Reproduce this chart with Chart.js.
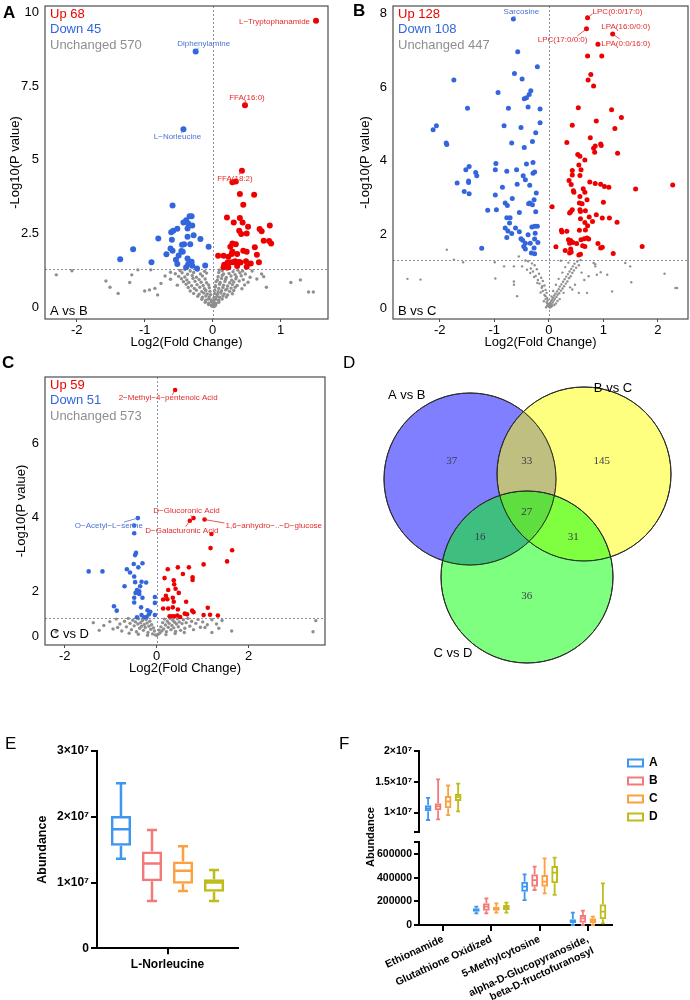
<!DOCTYPE html>
<html><head><meta charset="utf-8">
<script src="https://cdn.jsdelivr.net/npm/chart.js@4.4.1/dist/chart.umd.min.js"></script>
<style>
body{margin:0;width:690px;height:1000px;background:#fff;position:relative;overflow:hidden;font-family:'Liberation Sans',Arial,Helvetica,sans-serif}
.cv{position:absolute}
.let{position:absolute;font-size:17px;line-height:17px;color:#000}
</style></head><body>
<canvas class="cv" id="cA" width="340" height="350" style="left:0;top:0"></canvas>
<canvas class="cv" id="cB" width="350" height="350" style="left:340px;top:0"></canvas>
<canvas class="cv" id="cC" width="340" height="330" style="left:0;top:350px"></canvas>
<canvas class="cv" id="cD" width="350" height="330" style="left:340px;top:350px"></canvas>
<canvas class="cv" id="cE" width="340" height="310" style="left:0;top:690px"></canvas>
<canvas class="cv" id="cF1" width="350" height="95" style="left:340px;top:740px"></canvas>
<canvas class="cv" id="cF2" width="350" height="165" style="left:340px;top:835px"></canvas>
<canvas class="cv" id="cFL" width="140" height="80" style="left:622px;top:751px"></canvas>
<div class="let" style="left:3px;top:4px;font-weight:bold">A</div>
<div class="let" style="left:353px;top:2px;font-weight:bold">B</div>
<div class="let" style="left:2px;top:354px;font-weight:bold">C</div>
<div class="let" style="left:343px;top:354px">D</div>
<div class="let" style="left:5px;top:735px">E</div>
<div class="let" style="left:339px;top:735px">F</div>
<div style="position:absolute;left:370px;top:837px;transform:translate(-50%,-50%) rotate(-90deg);font-weight:bold;font-size:11px;white-space:nowrap">Abundance</div>
<script>
// ---------------- DATA ----------------
const pThreshold = 1.3;
// Panel A: A vs B
const upA = [[1.52,9.73],[0.475,6.86],[0.43,4.63],[0.29,4.24],[0.34,4.26],[0.40,3.84],[0.61,3.81],[0.45,3.47],[0.21,3.04],[0.40,3.02],[0.31,2.87],[0.44,2.87],[0.52,2.73],[0.69,2.65],[0.84,2.77],[0.39,2.59],[0.42,2.48],[0.50,2.50],[0.72,2.57],[0.75,2.25],[0.83,2.24],[0.86,2.16],[0.29,2.16],[0.34,2.13],[0.26,2.05],[0.62,2.03],[0.45,1.91],[0.50,1.88],[0.29,1.88],[0.28,1.80],[0.65,1.77],[0.08,1.74],[0.16,1.74],[0.23,1.71],[0.36,1.80],[0.49,1.55],[0.56,1.48],[0.68,1.52],[0.22,1.51],[0.25,1.51],[0.29,1.52],[0.33,1.55],[0.36,1.48],[0.39,1.53],[0.41,1.51],[0.17,1.43],[0.21,1.46],[0.16,1.35],[0.23,1.35],[0.36,1.39],[0.50,1.37]];
const downA = [[-0.25,8.68],[-0.43,6.04],[-0.59,3.45],[-0.34,3.08],[-0.31,3.08],[-0.39,2.95],[-0.43,2.87],[-0.36,2.84],[-0.30,2.77],[-0.37,2.67],[-0.52,2.66],[-0.58,2.59],[-0.61,2.54],[-0.37,2.39],[-0.28,2.44],[-0.18,2.31],[-0.80,2.33],[-0.60,2.28],[-0.33,2.13],[-0.45,2.11],[-0.42,2.13],[-0.06,2.05],[-1.17,1.96],[-0.62,1.99],[-0.59,1.91],[-0.46,1.90],[-0.44,1.88],[-0.68,1.79],[-0.50,1.75],[-0.37,1.65],[-0.54,1.60],[-0.90,1.52],[-1.36,1.62],[-0.31,1.54],[-0.52,1.46],[-0.36,1.46],[-0.39,1.35],[-0.30,1.40],[-0.23,1.31],[-0.11,1.41]];
const unchangedA = [[-2.30,1.09],[-2.07,1.23],[-1.57,0.88],[-1.51,0.67],[-1.39,0.46],[-1.22,0.83],[-1.19,1.09],[-1.10,1.26],[-0.91,1.26],[-1.00,0.54],[-0.93,0.58],[-0.85,0.63],[-0.81,0.41],[-0.76,0.80],[-0.70,1.05],[-0.62,1.18],[1.15,0.83],[1.29,0.92],[1.41,0.51],[1.48,0.51],[0.75,1.03],[0.79,0.67],[0.72,1.12],[0.65,0.95],[0.58,1.22],
[-0.48,1.24],[-0.41,1.27],[-0.33,1.22],[-0.22,1.25],[-0.12,1.21],[0.10,1.26],[0.14,1.23],[0.21,1.27],[0.30,1.20],[0.37,1.25],[0.44,1.22],
[-0.55,1.13],[-0.45,1.16],[-0.37,1.11],[-0.28,1.17],[-0.18,1.12],[-0.09,1.15],[0.09,1.17],[0.16,1.12],[0.24,1.14],[0.33,1.10],[0.40,1.16],[0.48,1.12],
[-0.50,1.04],[-0.41,1.02],[-0.30,1.07],[-0.24,1.01],[-0.15,1.05],[0.08,1.03],[0.14,1.07],[0.20,1.00],[0.27,1.05],[0.35,1.02],[0.42,1.06],[0.55,1.01],
[-0.62,0.94],[-0.46,0.96],[-0.38,0.92],[-0.29,0.97],[-0.20,0.93],[-0.11,0.95],[0.07,0.92],[0.13,0.97],[0.19,0.94],[0.28,0.91],[0.34,0.96],[0.45,0.93],
[-0.43,0.86],[-0.35,0.83],[-0.26,0.87],[-0.17,0.84],[-0.09,0.82],[0.05,0.86],[0.11,0.83],[0.18,0.87],[0.25,0.82],[0.31,0.85],[0.39,0.88],[0.52,0.84],
[-0.52,0.74],[-0.39,0.77],[-0.31,0.72],[-0.23,0.76],[-0.14,0.73],[-0.06,0.75],[0.04,0.72],[0.10,0.77],[0.16,0.74],[0.22,0.71],[0.29,0.76],[0.36,0.73],[0.47,0.75],
[-0.36,0.66],[-0.27,0.63],[-0.19,0.67],[-0.12,0.62],[-0.05,0.65],[0.04,0.68],[0.09,0.63],[0.15,0.66],[0.21,0.61],[0.27,0.64],[0.33,0.67],[0.43,0.62],
[-0.33,0.54],[-0.24,0.57],[-0.16,0.52],[-0.10,0.56],[-0.04,0.53],[0.03,0.57],[0.08,0.52],[0.13,0.55],[0.19,0.58],[0.25,0.53],[0.31,0.56],
[-0.28,0.46],[-0.20,0.43],[-0.13,0.47],[-0.08,0.44],[-0.03,0.42],[0.03,0.46],[0.07,0.43],[0.12,0.47],[0.17,0.44],[0.22,0.41],[0.29,0.45],
[-0.22,0.36],[-0.15,0.33],[-0.10,0.37],[-0.05,0.34],[0.02,0.32],[0.06,0.36],[0.10,0.33],[0.15,0.37],[0.20,0.34],
[-0.16,0.26],[-0.10,0.23],[-0.06,0.27],[-0.02,0.24],[0.02,0.22],[0.05,0.26],[0.09,0.23],[0.14,0.27],
[-0.11,0.16],[-0.06,0.13],[-0.02,0.17],[0.02,0.14],[0.05,0.12],[0.09,0.16],[-0.06,0.08],[-0.02,0.06],[0.01,0.09],[0.04,0.05],[-0.01,0.02],[0.02,0.01]];
const countsA = [68, 45, 570];
const labelsA = [['L\u2212Tryptophanamide',1.52,9.73,-6,1,'right',null,'u'],['Diphenylamine',-0.25,8.68,8,-8,'center',[3,-4],'d'],['FFA(16:0)',0.475,6.86,2,-7,'center',[1,-3],'u'],['L\u2212Norleucine',-0.43,6.04,-6,8,'center',[-2,4],'d'],['FFA(18:2)',0.43,4.63,-7,8,'center',[-3,4],'u']];
const xTicksA = [-2,-1,0,1];
const yTicksA = [0,2.5,5,7.5,10];

// Panel B: B vs C
const upB = [[0.71,7.88],[0.69,7.58],[1.17,7.44],[0.90,7.16],[0.71,6.84],[0.97,6.84],[0.77,6.34],[0.72,6.19],[0.82,6.03],[0.54,5.44],[1.15,5.38],[1.33,5.17],[0.87,5.08],[0.43,4.96],[1.21,4.87],[0.76,4.62],[0.33,4.49],[0.85,4.40],[0.95,4.45],[0.96,4.41],[0.82,4.34],[0.84,4.23],[1.26,4.20],[0.53,4.17],[0.57,4.12],[0.66,4.02],[0.55,3.88],[0.43,3.73],[0.59,3.75],[0.43,3.61],[0.57,3.60],[0.37,3.46],[0.75,3.42],[0.85,3.38],[0.95,3.36],[1.02,3.30],[1.10,3.28],[1.59,3.23],[2.27,3.34],[0.41,3.35],[0.45,3.18],[0.46,3.14],[0.63,3.24],[0.66,3.14],[0.70,2.94],[0.57,3.03],[1.00,2.87],[0.56,2.85],[0.61,2.83],[0.06,2.75],[0.43,2.67],[0.40,2.61],[0.38,2.58],[0.57,2.67],[0.58,2.62],[0.67,2.64],[0.87,2.53],[0.98,2.44],[1.11,2.44],[1.25,2.33],[0.58,2.42],[0.66,2.32],[0.74,2.47],[0.80,2.35],[0.71,2.23],[0.67,2.12],[0.56,2.11],[0.23,2.11],[0.24,2.06],[0.33,2.08],[0.40,1.83],[0.36,1.85],[0.38,1.76],[0.44,1.78],[0.51,1.75],[0.59,1.85],[0.65,1.88],[0.70,1.90],[0.73,1.87],[0.62,1.69],[0.66,1.67],[0.90,1.75],[0.95,1.63],[0.98,1.65],[0.13,1.66],[0.30,1.56],[0.40,1.60],[0.41,1.52],[0.55,1.44],[0.58,1.46],[1.18,1.48],[1.71,1.67],[0.38,1.49]];
const downB = [[-0.65,7.85],[-0.57,6.96],[-0.21,6.55],[-0.63,6.37],[-0.49,6.22],[-1.74,6.19],[-0.33,5.90],[-0.36,5.80],[-0.45,5.68],[-0.41,5.71],[-0.93,5.85],[-1.49,5.42],[-0.74,5.42],[-0.38,5.46],[-0.16,5.40],[-0.82,4.95],[-0.51,4.90],[-0.16,5.03],[-2.06,4.95],[-2.12,4.84],[-0.24,4.76],[-1.88,4.48],[-1.87,4.44],[-0.68,4.48],[-0.30,4.52],[-0.45,4.36],[-1.46,3.84],[-1.52,3.75],[-0.97,3.92],[-0.98,3.75],[-0.77,3.71],[-0.59,3.75],[-0.41,3.91],[-0.29,3.95],[-0.29,3.66],[-0.26,3.69],[-1.34,3.68],[-1.32,3.59],[-1.47,3.45],[-1.47,3.41],[-1.68,3.39],[-0.47,3.59],[-0.43,3.48],[-0.58,3.36],[-0.85,3.28],[-0.35,3.33],[-0.23,3.12],[-1.55,3.16],[-1.46,3.10],[-0.98,3.07],[-0.67,2.97],[-0.27,2.94],[-0.80,2.85],[-0.76,2.78],[-0.37,2.83],[-0.35,2.85],[-0.30,2.80],[-0.24,2.61],[-1.12,2.65],[-0.96,2.67],[-0.54,2.59],[-0.77,2.45],[-0.71,2.45],[-0.72,2.31],[-0.31,2.20],[-0.26,2.22],[-0.21,2.22],[-0.80,2.17],[-0.75,2.09],[-0.61,2.17],[-0.68,2.02],[-0.38,1.99],[-0.25,2.03],[-0.77,1.91],[-0.54,2.07],[-0.51,1.88],[-0.48,1.84],[-0.43,1.76],[-0.34,1.76],[-0.26,1.87],[-0.20,1.78],[-0.43,1.60],[-0.27,1.63],[-1.23,1.62],[-0.32,1.49],[-0.26,1.47],[-0.46,1.67]];
const unchangedB = [[-2.59,0.79],[-2.35,0.77],[-1.87,1.58],[-1.74,1.31],[-1.57,1.24],[-0.99,1.24],[-0.98,0.80],[-0.82,1.13],[-0.64,1.13],[-0.64,0.72],[-0.64,0.63],[-0.58,0.32],[-0.55,1.40],[0.82,1.22],[0.85,1.13],[1.07,0.90],[1.16,0.45],[1.40,1.22],[1.49,1.13],[1.51,0.70],[2.12,0.93],[2.32,0.54],[2.35,0.54],[0.70,0.41],[0.73,0.86],[0.88,0.90],[0.95,0.97],[0.85,1.19],[0.55,0.41],[0.43,0.50],
[-0.43,1.29],[-0.49,1.13],[-0.40,1.04],[-0.34,0.95],[-0.27,0.84],[-0.21,0.68],[-0.12,0.59],[-0.15,0.42],[-0.06,0.32],[-0.09,0.18],[-0.03,0.14],
[-0.38,1.27],[-0.31,1.21],[-0.26,1.16],[-0.33,1.07],[-0.22,1.05],[-0.29,0.99],[-0.18,0.93],[-0.24,0.87],[-0.14,0.82],[-0.20,0.76],[-0.11,0.73],[-0.17,0.66],[-0.08,0.61],[-0.13,0.55],[-0.06,0.49],[-0.11,0.46],[-0.04,0.41],[-0.08,0.35],[-0.03,0.27],[-0.06,0.24],[-0.02,0.21],[-0.04,0.15],[-0.01,0.11],[-0.03,0.07],[0.00,0.04],[0.01,0.09],[0.02,0.13],[0.03,0.06],[0.04,0.18],[0.05,0.10],[0.06,0.23],[0.07,0.15],[0.08,0.28],[0.09,0.20],[0.10,0.34],[0.11,0.25],[0.12,0.39],[0.14,0.30],[0.15,0.45],[0.16,0.36],[0.18,0.51],[0.19,0.40],[0.20,0.58],[0.22,0.47],[0.23,0.64],[0.25,0.53],[0.26,0.71],[0.28,0.59],[0.29,0.78],[0.31,0.66],[0.32,0.85],[0.34,0.72],[0.35,0.92],[0.37,0.81],[0.38,0.99],[0.40,0.86],[0.41,1.06],[0.43,0.95],[0.44,1.13],[0.46,1.02],[0.47,1.20],[0.50,1.09],[0.52,1.26],[0.55,1.16],[0.36,1.23],[0.30,1.11],[0.25,0.96],[0.18,0.79],[0.13,0.63],[0.08,0.46],[0.05,0.31],[0.22,1.28],[0.60,0.96],[0.48,0.63],[0.65,0.76],[0.58,1.30],[0.39,0.56],[0.27,0.41],[-0.05,0.02],[0.02,0.01],[0.04,0.03],[-0.02,0.05],[0.06,0.05],[0.10,0.08],[0.13,0.12],[0.16,0.19],[0.20,0.24]];
const countsB = [128, 108, 447];
const labelsB = [['Sarcosine',-0.65,7.85,8,-7,'center',[2,-3],'d'],['LPC(0:0/17:0)',0.71,7.88,5,-6,'left',[5,-4],'u'],['LPC(17:0/0:0)',0.69,7.58,1,11,'right',[-9,7],'u'],['LPA(16:0/0:0)',1.17,7.44,13,-7,'center',null,'u'],['LPA(0:0/16:0)',1.17,7.44,13,9.5,'center',[7,5],'u']];
const xTicksB = [-2,-1,0,1,2];
const yTicksB = [0,2,4,6,8];

// Panel C: C vs D
const upC = [[0.40,7.45],[0.80,3.99],[0.72,3.92],[1.04,3.95],[1.19,3.56],[1.17,3.18],[1.64,3.12],[1.53,2.82],[1.02,2.74],[0.70,2.66],[0.57,2.48],[0.46,2.66],[0.24,2.61],[0.17,2.37],[0.37,2.31],[0.78,2.39],[0.78,2.32],[0.38,2.20],[0.41,2.08],[0.25,2.05],[0.48,1.97],[0.20,1.89],[0.23,1.80],[0.14,1.79],[0.35,1.84],[0.37,1.73],[0.64,1.73],[0.35,1.58],[0.14,1.55],[0.25,1.55],[0.46,1.52],[0.77,1.49],[0.80,1.45],[1.11,1.57],[1.16,1.38],[1.33,1.36],[0.61,1.41],[0.66,1.39],[0.28,1.34],[0.33,1.34],[0.38,1.34],[0.45,1.36],[0.51,1.32],[1.02,1.37]];
const downC = [[-0.41,3.99],[-0.49,3.79],[-0.49,3.58],[-0.45,3.05],[-0.47,2.99],[-0.50,2.75],[-0.31,2.77],[-0.40,2.66],[-1.48,2.55],[-1.18,2.55],[-0.65,2.61],[-0.58,2.52],[-0.49,2.41],[-0.33,2.27],[-0.23,2.25],[-0.47,2.26],[-0.70,2.15],[-0.36,2.15],[-0.43,2.05],[-0.38,2.01],[-0.46,1.97],[-0.38,1.94],[-0.49,1.84],[-0.49,1.71],[-0.31,1.84],[-0.04,1.86],[-0.04,1.70],[-0.93,1.61],[-0.87,1.49],[-0.34,1.58],[-0.20,1.50],[-0.14,1.46],[-0.17,1.39],[-0.33,1.37],[-0.22,1.32],[-0.43,1.31],[-0.27,1.31],[-0.04,1.37]];
const unchangedC = [[-2.49,1.09],[-2.19,0.30],[3.46,1.09],[3.40,0.30],[1.63,0.35],[1.42,1.10],[1.30,0.85],[1.05,0.60],[1.20,0.25],[-1.38,0.95],[-1.15,0.75],[-1.02,1.02],[-0.95,0.50],[-0.88,1.20],[-0.80,0.85],[-0.76,0.35],[-0.70,1.05],[-0.66,0.65],[-0.62,1.25],[-0.58,0.90],[-0.55,0.45],[-0.52,1.12],[-0.49,0.72],[-0.46,1.00],[-0.44,0.30],[-0.41,0.85],[-0.39,1.22],[-0.37,0.55],[-0.35,0.95],[-0.33,0.70],[-0.31,1.10],[-0.29,0.40],[-0.27,0.82],[-0.25,0.60],[-0.23,1.18],[-0.21,0.92],[-0.19,0.25],[-0.17,0.70],[-0.15,1.05],[-0.13,0.48],[-0.11,0.80],[-0.09,0.15],[-0.07,0.58],[-0.05,0.35],[-0.03,0.08],[0.00,0.03],[0.03,0.12],[0.05,0.42],[0.07,0.22],[0.09,0.65],[0.11,0.35],[0.13,0.95],[0.15,0.50],[0.17,1.20],[0.19,0.78],[0.21,0.30],[0.23,1.05],[0.25,0.62],[0.27,0.90],[0.29,1.25],[0.31,0.45],[0.33,0.75],[0.35,1.12],[0.37,0.58],[0.39,0.98],[0.41,0.32],[0.43,0.85],[0.45,1.22],[0.47,0.66],[0.49,1.00],[0.52,0.40],[0.55,0.88],[0.58,1.15],[0.61,0.55],[0.64,0.95],[0.68,1.25],[0.72,0.70],[0.76,1.05],[0.80,0.45],[0.85,0.90],[0.90,1.18],[0.95,0.62],[1.00,1.00],[1.10,0.80],[1.20,1.15],[1.35,0.55],[-0.60,0.20],[-0.40,0.12],[-0.20,0.05],[0.20,0.10],[0.40,0.18],[0.60,0.25],[-0.85,0.60],[-1.25,0.40]];
const countsC = [59, 51, 573];
const labelsC = [['2\u2212Methyl\u22124\u2212pentenoic Acid',0.40,7.45,-7,8,'center',[-3,5],'u'],['D\u2212Glucoronic Acid',0.80,3.99,-7,-7,'center',[-3,-3],'u'],['D\u2212Galacturonic Acid',0.72,3.92,-8,10,'center',[-4,6],'u'],['1,6\u2212anhydro\u2212..\u2212D\u2212glucose',1.04,3.95,21,6.7,'left',[20,3.4],'u'],['O\u2212Acetyl\u2212L\u2212serine',-0.41,3.99,-29,8,'center',[-14,4],'d']];
const xTicksC = [-2,0,2];
const yTicksC = [0,2,4,6];

// Panel D: Venn
const vennSetNames = ['A vs B','B vs C','C vs D'];
const vennRegions = ['A only','A\u2229B','B only','A\u2229B\u2229C','A\u2229C','B\u2229C','C only'];
const vennCounts = [37, 33, 145, 27, 16, 31, 36];

// Panel E: L-Norleucine abundance (min, Q1, median, Q3, max)
const groups = ['A','B','C','D'];
const eCategories = ['L-Norleucine'];
const eA = [[1.36e7,1.56e7,1.81e7,2.01e7,2.51e7]];
const eB = [[0.72e7,1.02e7,1.29e7,1.47e7,1.80e7]];
const eC = [[0.87e7,0.98e7,1.18e7,1.32e7,1.55e7]];
const eD = [[0.72e7,0.86e7,1.00e7,1.05e7,1.19e7]];
const eYTicks = [0,1e7,2e7,3e7];

// Panel F: abundance per metabolite (min, Q1, median, Q3, max)
const fCategories = ['Ethionamide','Glutathione Oxidized','5-Methylcytosine',['alpha-D-Glucopyranoside,','beta-D-fructofuranosyl']];
const fA = [[0.88e7,1.02e7,1.07e7,1.12e7,1.24e7],[99e3,113e3,127e3,141e3,155e3],[211e3,282e3,324e3,366e3,428e3],[0,14e3,34e3,48e3,104e3]];
const fB = [[0.89e7,1.04e7,1.10e7,1.15e7,1.54e7],[99e3,121e3,155e3,183e3,225e3],[296e3,324e3,380e3,428e3,493e3],[0,20e3,56e3,85e3,121e3]];
const fC = [[0.96e7,1.07e7,1.18e7,1.27e7,1.44e7],[104e3,121e3,141e3,155e3,183e3],[268e3,324e3,366e3,423e3,563e3],[0,14e3,37e3,56e3,70e3]];
const fD = [[1.02e7,1.19e7,1.25e7,1.30e7,1.47e7],[104e3,127e3,146e3,169e3,189e3],[254e3,352e3,442e3,499e3,569e3],[14e3,48e3,113e3,175e3,352e3]];
const fUpperTicks = [6.9e6,1e7,1.5e7,2e7];
const fLowerTicks = [0,2e5,4e5,6e5,7.04e5];

// ---------------- STYLE / LAYOUT ----------------
const FONT = "'Liberation Sans', Arial, Helvetica, sans-serif";
Chart.defaults.font.family = FONT;
Chart.defaults.color = '#000';
Chart.defaults.layout.autoPadding = false;
const UP_COL = '#ee0000', DOWN_COL = '#3366dd', GREY_COL = '#8f8f8f';
const LBL_UP = '#e42a2a', LBL_DOWN = '#4a72d2';
const groupColors = ['#3d97f0','#f47a7a','#fca040','#bdbd1a'];
const noPadY = w => s => { s.width = w; s.paddingTop = 0; s.paddingBottom = 0; };
const noPadX = h => s => { s.height = h; s.paddingLeft = 0; s.paddingRight = 0; };

// piecewise scale: squeezes the non-significant band of panel C
const SQ_AT = 1.3, SQ_F = 0.38;
class SquishScale extends Chart.LinearScale {
  _tf(v){ return v >= SQ_AT ? v : SQ_AT - (SQ_AT - v) * SQ_F; }
  getPixelForValue(v){ const a=this._tf(this.min), c=this._tf(this.max); return this.getPixelForDecimal((this._tf(v)-a)/(c-a)); }
  getValueForPixel(p){ const a=this._tf(this.min), c=this._tf(this.max); const t=a+this.getDecimalForPixel(p)*(c-a); return t>=SQ_AT? t : SQ_AT-(SQ_AT-t)/SQ_F; }
}
SquishScale.id = 'squish';
SquishScale.defaults = Chart.LinearScale.defaults;
Chart.register(SquishScale);

const toPts = a => a.map(p => ({x:p[0], y:p[1]}));

function makeVolcano(id, d, L) {
  const decor = {
    id: 'decor',
    beforeDatasetsDraw(chart) {
      const {ctx, chartArea:ca, scales:{x,y}} = chart;
      ctx.save(); ctx.strokeStyle='#8d8da6'; ctx.lineWidth=1; ctx.setLineDash([2,2]);
      const py=Math.round(y.getPixelForValue(pThreshold))+0.5, px=Math.round(x.getPixelForValue(0))+0.5;
      ctx.beginPath(); ctx.moveTo(ca.left,py); ctx.lineTo(ca.right,py); ctx.moveTo(px,ca.top); ctx.lineTo(px,ca.bottom); ctx.stroke();
      ctx.restore();
    },
    afterDatasetsDraw(chart) {
      const {ctx, chartArea:ca, scales:{x,y}} = chart;
      ctx.save();
      ctx.font = '8px '+FONT; ctx.textBaseline='middle';
      d.labels.forEach(([t,vx,vy,dx,dy,al,ld,k]) => {
        const px=x.getPixelForValue(vx), py=y.getPixelForValue(vy);
        const col = k==='u' ? LBL_UP : LBL_DOWN;
        ctx.strokeStyle=col; ctx.fillStyle=col; ctx.lineWidth=0.8;
        if (ld) { ctx.beginPath(); ctx.moveTo(px,py); ctx.lineTo(px+ld[0],py+ld[1]); ctx.stroke(); }
        ctx.textAlign=al; ctx.fillText(t, px+dx, py+dy);
      });
      ctx.strokeStyle='#4d4d4d'; ctx.lineWidth=1.2;
      ctx.strokeRect(ca.left, ca.top, ca.right-ca.left, ca.bottom-ca.top);
      ctx.font='13px '+FONT; ctx.textAlign='left';
      const cols=[UP_COL,DOWN_COL,GREY_COL], names=['Up','Down','Unchanged'];
      names.forEach((n,i)=>{ ctx.fillStyle=cols[i]; ctx.fillText(n+' '+d.counts[i], ca.left+5, ca.top+8+15.5*i); });
      ctx.fillStyle='#000'; ctx.fillText(d.comparison, ca.left+5, ca.bottom-L.cmpOff);
      ctx.restore();
    }
  };
  return new Chart(document.getElementById(id), {
    type:'scatter',
    data:{datasets:[
      {data:toPts(d.up), backgroundColor:UP_COL, pointRadius:L.r, borderWidth:0, pointBorderWidth:0},
      {data:toPts(d.down), backgroundColor:DOWN_COL, pointRadius:L.r, borderWidth:0, pointBorderWidth:0},
      {data:toPts(d.unchanged), backgroundColor:GREY_COL, pointRadius:L.rg, borderWidth:0, pointBorderWidth:0}
    ]},
    options:{
      responsive:false, animation:false, events:[], devicePixelRatio:1,
      layout:{padding:L.pad, autoPadding:false},
      plugins:{legend:{display:false}, tooltip:{enabled:false}},
      scales:{
        x:{type:'linear', min:L.xMin, max:L.xMax,
          afterBuildTicks:s=>{s.ticks=d.xTicks.map(v=>({value:v}));},
          afterFit:noPadX(L.xH),
          grid:{display:true, drawOnChartArea:false, drawTicks:true, tickLength:3, color:'#4d4d4d'},
          border:{display:false},
          ticks:{color:'#000', font:{size:13}, padding:1, maxRotation:0, callback:v=>String(v)},
          title:{display:true, text:'Log2(Fold Change)', color:'#000', font:{size:13}, padding:{top:0,bottom:L.xTitlePad}}},
        y:{type:L.yType, min:L.yMin, max:L.yMax,
          afterBuildTicks:s=>{s.ticks=d.yTicks.map(v=>({value:v}));},
          afterFit:noPadY(L.yW),
          grid:{display:false, drawTicks:false},
          border:{display:false},
          ticks:{color:'#000', font:{size:13}, padding:L.yTickPad, callback:v=>String(v)},
          title:{display:true, text:'-Log10(P value)', color:'#000', font:{size:13}, padding:{top:L.yTitlePad,bottom:0}}}
      }
    },
    plugins:[decor]
  });
}

makeVolcano('cA', {up:upA, down:downA, unchanged:unchangedA, counts:countsA, comparison:'A vs B', labels:labelsA, xTicks:xTicksA, yTicks:yTicksA},
  {pad:{top:6,right:12,left:0,bottom:0}, yW:45, xH:31, xMin:-2.466, xMax:1.696, yMin:-0.41, yMax:10.23, yType:'linear', yTitlePad:8, yTickPad:6, xTitlePad:0, r:3, rg:1.7, cmpOff:8});
makeVolcano('cB', {up:upB, down:downB, unchanged:unchangedB, counts:countsB, comparison:'B vs C', labels:labelsB, xTicks:xTicksB, yTicks:yTicksB},
  {pad:{top:6,right:2,left:0,bottom:0}, yW:53, xH:31, xMin:-2.855, xMax:2.55, yMin:-0.30, yMax:8.2, yType:'linear', yTitlePad:18, yTickPad:6, xTitlePad:0, r:2.5, rg:1.2, cmpOff:8});
makeVolcano('cC', {up:upC, down:downC, unchanged:unchangedC, counts:countsC, comparison:'C vs D', labels:labelsC, xTicks:xTicksC, yTicks:yTicksC},
  {pad:{top:27,right:15,left:0,bottom:0}, yW:45, xH:35, xMin:-2.43, xMax:3.66, yMin:-0.64, yMax:7.8, yType:'squish', yTitlePad:14, yTickPad:6, xTitlePad:4, r:2.3, rg:1.7, cmpOff:11});

// ---------- Venn (bubble chart in pixel-like units) ----------
const vennCircles = [[130,129,86],[244,124,87],[187,227,86]];
const vennCircleColors = ['rgba(0,0,255,0.5)','rgba(255,255,0,0.5)','rgba(0,255,0,0.5)'];
const vennCountPos = [[111.7,110.7],[186.7,110.7],[261.7,110.7],[186.7,161.7],[140,187.3],[233.3,187.3],[186.7,245.7]];
const vennNamePos = [[66.7,45],[273,38],[113,303]];
new Chart(document.getElementById('cD'), {
  type:'bubble',
  data:{datasets:[{data:vennCircles.map(c=>({x:c[0],y:c[1],r:c[2]})), backgroundColor:vennCircleColors, borderColor:'#333', borderWidth:1, clip:false}]},
  options:{responsive:false, animation:false, events:[], devicePixelRatio:1, layout:{padding:0, autoPadding:false},
    plugins:{legend:{display:false}, tooltip:{enabled:false}},
    scales:{x:{type:'linear', min:0, max:350, display:false}, y:{type:'linear', min:0, max:330, reverse:true, display:false}}},
  plugins:[{id:'vennText', afterDatasetsDraw(chart){
    const {ctx, scales:{x,y}} = chart; const meta=chart.getDatasetMeta(0);
    ctx.save(); ctx.strokeStyle='#2a2a2a'; ctx.lineWidth=1;
    meta.data.forEach(el=>{ ctx.beginPath(); ctx.arc(el.x, el.y, el.options.radius, 0, Math.PI*2); ctx.stroke(); });
    ctx.textAlign='center'; ctx.textBaseline='middle';
    ctx.font="11px 'Liberation Serif', 'DejaVu Serif', serif"; ctx.fillStyle='#3a3a4a';
    vennCounts.forEach((n,i)=>{ ctx.fillText(String(n), x.getPixelForValue(vennCountPos[i][0]), y.getPixelForValue(vennCountPos[i][1])); });
    ctx.font='13px '+FONT; ctx.fillStyle='#000';
    vennSetNames.forEach((n,i)=>{ ctx.fillText(n, x.getPixelForValue(vennNamePos[i][0]), y.getPixelForValue(vennNamePos[i][1])); });
    ctx.restore();
  }}]
});

// ---------- Box plots ----------
function whiskerPlugin(stats, cats, capRatio, lw) {
  return {id:'whisk', afterDatasetsDraw(chart){
    const ctx=chart.ctx, y=chart.scales.y;
    chart.data.datasets.forEach((ds,di)=>{
      const meta=chart.getDatasetMeta(di);
      cats.forEach(i=>{
        const s=stats[di][i], bar=meta.data[i]; if(!s||!bar) return;
        const x=bar.x, w=bar.width, cw=w*capRatio;
        const p=s.map(v=>y.getPixelForValue(v));
        ctx.save(); ctx.strokeStyle=ds.borderColor; ctx.lineWidth=lw; ctx.beginPath();
        ctx.moveTo(x,p[3]); ctx.lineTo(x,p[4]); ctx.moveTo(x,p[1]); ctx.lineTo(x,p[0]);
        ctx.moveTo(x-cw/2,p[4]); ctx.lineTo(x+cw/2,p[4]); ctx.moveTo(x-cw/2,p[0]); ctx.lineTo(x+cw/2,p[0]);
        ctx.moveTo(x-w/2+lw/2,p[2]); ctx.lineTo(x+w/2-lw/2,p[2]);
        ctx.stroke(); ctx.restore();
      });
    });
  }};
}
const sciFmt = v => v===0 ? '0' : (v/1e7)+'\u00d710\u2077';

const eStats = [eA,eB,eC,eD];
new Chart(document.getElementById('cE'), {
  type:'bar',
  data:{labels:eCategories, datasets:eStats.map((s,i)=>({label:groups[i], data:s.map(b=>[b[1],b[3]]), backgroundColor:'rgba(255,255,255,0)', borderColor:groupColors[i], borderWidth:2.5, borderSkipped:false, categoryPercentage:0.88, barPercentage:0.65}))},
  options:{responsive:false, animation:false, events:[], devicePixelRatio:1, layout:{padding:{top:61,right:102,left:0,bottom:0}, autoPadding:false},
    plugins:{legend:{display:false}, tooltip:{enabled:false}},
    scales:{
      x:{afterFit:noPadX(51.7), grid:{display:true, drawOnChartArea:false, drawTicks:true, tickLength:6, color:'#000', lineWidth:2, offset:false}, border:{display:true, color:'#000', width:2}, ticks:{color:'#000', font:{size:12, weight:'bold'}, padding:3}},
      y:{min:0, max:3e7, afterBuildTicks:s=>{s.ticks=eYTicks.map(v=>({value:v}));}, afterFit:noPadY(97), grid:{display:true, drawOnChartArea:false, drawTicks:true, tickLength:6, color:'#000', lineWidth:2}, border:{display:true, color:'#000', width:2}, ticks:{color:'#000', font:{size:12, weight:'bold'}, padding:2, callback:sciFmt}, title:{display:true, text:'Abundance', color:'#000', font:{size:12.5, weight:'bold'}, padding:{top:35.5,bottom:0}}}
    }},
  plugins:[whiskerPlugin(eStats,[0],0.5,2.5)]
});

const fStats = [fA,fB,fC,fD];
function fChart(id, cats, yMin, yMax, ticks, fmt, showX, xH, pad) {
  return new Chart(document.getElementById(id), {
    type:'bar',
    data:{labels:fCategories, datasets:fStats.map((s,i)=>({label:groups[i], data:s.map((b,k)=>cats.includes(k)?[b[1],b[3]]:null), backgroundColor:'rgba(255,255,255,0)', borderColor:groupColors[i], borderWidth:2, borderSkipped:false, categoryPercentage:0.83, barPercentage:0.67}))},
    options:{responsive:false, animation:false, events:[], devicePixelRatio:1, layout:{padding:pad, autoPadding:false},
      plugins:{legend:{display:false}, tooltip:{enabled:false}},
      scales:{
        x:{display:showX, afterFit:noPadX(xH), grid:{display:true, drawOnChartArea:false, drawTicks:true, tickLength:6, color:'#000', lineWidth:2, offset:false}, border:{display:true, color:'#000', width:2}, ticks:{color:'#000', font:{size:10.5, weight:'bold'}, padding:2, minRotation:25, maxRotation:25, autoSkip:false}},
        y:{min:yMin, max:yMax, afterBuildTicks:s=>{s.ticks=ticks.map(v=>({value:v}));}, afterFit:noPadY(79), grid:{display:true, drawOnChartArea:false, drawTicks:true, tickLength:5, color:'#000', lineWidth:2}, border:{display:true, color:'#000', width:2}, ticks:{color:'#000', font:{size:10.5, weight:'bold'}, padding:2, callback:fmt}}
      }},
    plugins:[whiskerPlugin(fStats,cats,0.6,1.8)]
  });
}
fChart('cF1',[0],6.9e6,2e7,fUpperTicks,v=>v<1e7-1?'':sciFmt(v),false,0,{top:11,right:78,left:0,bottom:3.3});
fChart('cF2',[1,2,3],0,7.04e5,fLowerTicks,v=>v>6.5e5?'':String(v),true,75,{top:6.7,right:78,left:0,bottom:0});

// legend for panel F
new Chart(document.getElementById('cFL'), {
  type:'bar',
  data:{labels:[], datasets:groups.map((g,i)=>({label:g, data:[], backgroundColor:'#fff', borderColor:groupColors[i], borderWidth:2}))},
  options:{responsive:false, animation:false, events:[], devicePixelRatio:1,
    plugins:{tooltip:{enabled:false}, legend:{position:'left', align:'start', labels:{boxWidth:15, boxHeight:7, padding:6, color:'#000', font:{size:12, weight:'bold'}}}},
    scales:{x:{display:false}, y:{display:false}}}
});
</script>
</body></html>
